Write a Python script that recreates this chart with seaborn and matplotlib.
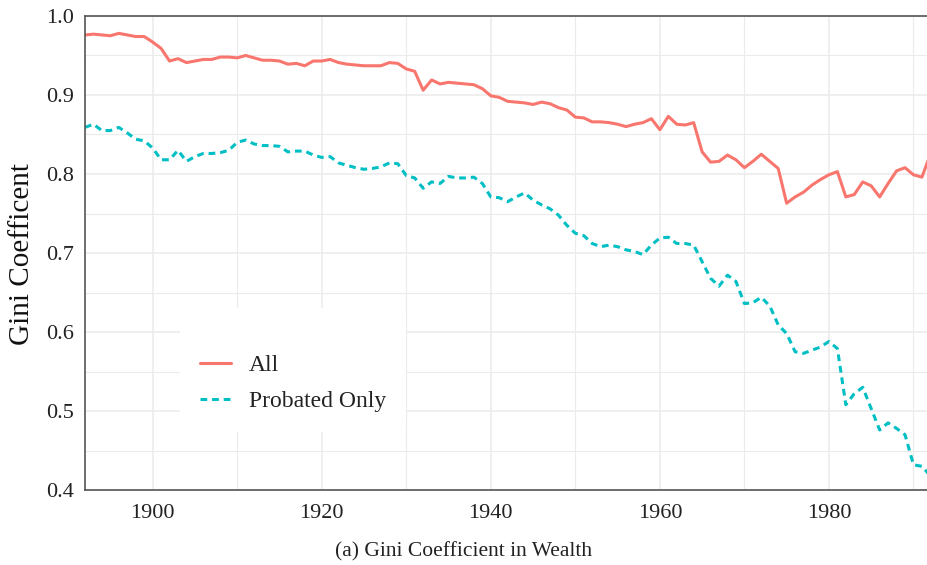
import numpy as np
import pandas as pd
import matplotlib
matplotlib.use("Agg")
import matplotlib.pyplot as plt
from matplotlib.ticker import MultipleLocator
import seaborn as sns

years = np.arange(1892, 1993)

gini_all = [
    0.976, 0.977, 0.976, 0.975, 0.978, 0.976, 0.974, 0.974,             # 1892-1899
    0.967, 0.959, 0.943, 0.946, 0.941, 0.943, 0.945, 0.945, 0.948, 0.948,  # 1900s
    0.947, 0.950, 0.947, 0.944, 0.944, 0.943, 0.939, 0.940, 0.937, 0.943,  # 1910s
    0.943, 0.945, 0.941, 0.939, 0.938, 0.937, 0.937, 0.937, 0.941, 0.940,  # 1920s
    0.933, 0.930, 0.906, 0.919, 0.914, 0.916, 0.915, 0.914, 0.913, 0.908,  # 1930s
    0.899, 0.897, 0.892, 0.891, 0.890, 0.888, 0.891, 0.889, 0.884, 0.881,  # 1940s
    0.872, 0.871, 0.866, 0.866, 0.865, 0.863, 0.860, 0.863, 0.865, 0.870,  # 1950s
    0.856, 0.873, 0.863, 0.862, 0.865, 0.828, 0.815, 0.816, 0.824, 0.818,  # 1960s
    0.808, 0.816, 0.825, 0.816, 0.807, 0.763, 0.771, 0.777, 0.786, 0.793,  # 1970s
    0.799, 0.803, 0.771, 0.774, 0.790, 0.785, 0.771, 0.788, 0.804, 0.808,  # 1980s
    0.799, 0.796, 0.825,                                                 # 1990-1992
]

gini_probated = [
    0.859, 0.863, 0.855, 0.855, 0.859, 0.852, 0.844, 0.842,
    0.833, 0.818, 0.818, 0.830, 0.816, 0.822, 0.826, 0.826, 0.827, 0.830,
    0.840, 0.843, 0.838, 0.836, 0.836, 0.835, 0.828, 0.829, 0.829, 0.824,
    0.821, 0.822, 0.814, 0.811, 0.808, 0.806, 0.807, 0.809, 0.814, 0.813,
    0.798, 0.795, 0.782, 0.790, 0.788, 0.797, 0.795, 0.795, 0.796, 0.788,
    0.771, 0.770, 0.765, 0.771, 0.776, 0.767, 0.761, 0.756, 0.748, 0.735,
    0.725, 0.722, 0.712, 0.708, 0.710, 0.708, 0.704, 0.702, 0.698, 0.710,
    0.719, 0.720, 0.712, 0.712, 0.710, 0.689, 0.668, 0.658, 0.672, 0.664,
    0.636, 0.637, 0.644, 0.633, 0.609, 0.598, 0.575, 0.573, 0.577, 0.581,
    0.588, 0.579, 0.508, 0.522, 0.530, 0.503, 0.476, 0.485, 0.478, 0.470,
    0.432, 0.430, 0.418,
]

groups = ["All", "Probated Only"]
colors = ["#F8766D", "#00BFC4"]

df = pd.DataFrame({
    "year": np.concatenate([years, years]),
    "gini": gini_all + gini_probated,
    "sample": [groups[0]] * len(years) + [groups[1]] * len(years),
})

sns.set_theme(style="whitegrid")
plt.rcParams["font.family"] = ["Liberation Serif", "DejaVu Serif"]

fig = plt.figure(figsize=(9.27, 5.65), dpi=100)
ax = fig.add_axes([0.0917, 0.1327, 0.9083, 0.839])

sns.lineplot(data=df, x="year", y="gini", hue="sample", style="sample",
             palette=colors, dashes={"All": "", "Probated Only": (2.2, 1.6)},
             linewidth=2.2, ax=ax)

ax.set_xlim(1892, 1991.6)
ax.set_ylim(0.4, 1.0)
ax.xaxis.set_major_locator(MultipleLocator(20))
ax.xaxis.set_minor_locator(MultipleLocator(10))
ax.yaxis.set_major_locator(MultipleLocator(0.1))
ax.yaxis.set_minor_locator(MultipleLocator(0.05))
ax.yaxis.set_major_formatter(plt.FuncFormatter(lambda v, p: f"{v:.1f}"))

ax.grid(which="major", color="#EBEBEB", linewidth=1.1)
ax.grid(which="minor", color="#EBEBEB", linewidth=0.8)
ax.set_axisbelow(True)

for side in ["left", "bottom", "top"]:
    ax.spines[side].set_visible(True)
    ax.spines[side].set_color("#555555")
    ax.spines[side].set_linewidth(1.2)
ax.spines["right"].set_visible(False)

ax.tick_params(which="major", length=5, width=1.1, color="#555555",
               labelsize=16, labelcolor="#222222", pad=3)
ax.tick_params(which="minor", length=0)
ax.tick_params(axis="x", pad=5)

ax.set_xlabel("")
ax.set_ylabel("")
fig.text(0.024, 0.55, "Gini Coefficent", rotation=90, ha="center", va="center",
         fontsize=21, color="#111111")
fig.text(0.5, 0.023, "(a) Gini Coefficient in Wealth", ha="center", va="center",
         fontsize=15.5, color="#222222")

leg = ax.legend(title=" ", title_fontsize=9, loc="lower left",
                bbox_to_anchor=(0.113, 0.122), borderaxespad=0, frameon=True,
                fontsize=17, handlelength=1.3, handletextpad=0.75,
                labelspacing=0.62, borderpad=0.85)
leg.get_frame().set_facecolor("white")
leg.get_frame().set_edgecolor("none")
leg.get_frame().set_alpha(1)
for t in leg.get_texts():
    t.set_color("#222222")

fig.savefig("out.png", dpi=100)
